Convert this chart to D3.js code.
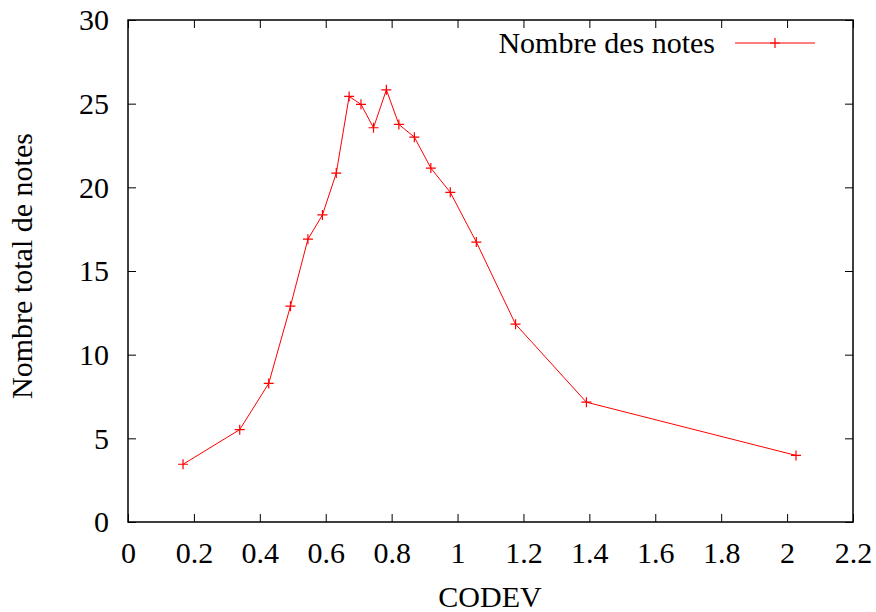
<!DOCTYPE html>
<html><head><meta charset="utf-8">
<script src="https://cdn.jsdelivr.net/npm/d3@7"></script>
<style>body{margin:0;background:#fff}svg{display:block}text{font-family:"Liberation Serif","Times New Roman",serif;fill:#000}</style>
</head><body>
<script>
const codev = [0.167,0.339,0.427,0.493,0.546,0.590,0.632,0.671,0.707,0.745,0.784,0.822,0.869,0.919,0.978,1.057,1.176,1.391,2.027];
const notes = [3.45,5.52,8.28,12.9,16.9,18.35,20.85,25.43,24.96,23.56,25.83,23.76,23.0,21.15,19.7,16.73,11.82,7.16,3.98];
const xTicks = [0,0.2,0.4,0.6,0.8,1,1.2,1.4,1.6,1.8,2,2.2];
const yTicks = [0,5,10,15,20,25,30];
const seriesName = "Nombre des notes";
const xTitle = "CODEV";
const yTitle = "Nombre total de notes";

const W=876,H=612, L=128,R=853,T=20,B=522;
const svg=d3.select("body").append("svg").attr("width",W).attr("height",H);
const x=d3.scaleLinear().domain([0,2.2]).range([L,R]);
const y=d3.scaleLinear().domain([0,30]).range([B,T]);
const fs=30, tl=8, FF='"Liberation Serif","Times New Roman",serif';

const gx=svg.append("g").attr("transform",`translate(0,${B})`)
 .call(d3.axisBottom(x).tickValues(xTicks).tickFormat(d3.format("~g")).tickSizeInner(-tl).tickSizeOuter(0).tickPadding(0));
const gxt=svg.append("g").attr("transform",`translate(0,${T})`)
 .call(d3.axisTop(x).tickValues(xTicks).tickFormat("").tickSizeInner(-tl).tickSizeOuter(0));
const gy=svg.append("g").attr("transform",`translate(${L},0)`)
 .call(d3.axisLeft(y).tickValues(yTicks).tickSizeInner(-tl).tickSizeOuter(0).tickPadding(0));
const gyr=svg.append("g").attr("transform",`translate(${R},0)`)
 .call(d3.axisRight(y).tickValues(yTicks).tickFormat("").tickSizeInner(-tl).tickSizeOuter(0));
[gx,gxt,gy,gyr].forEach(g=>{g.attr("font-family",FF).attr("font-size",fs);
 g.select(".domain").remove();g.selectAll("line").attr("stroke","#000").attr("stroke-width",1);
 g.selectAll("text").attr("fill","#000");});
gx.selectAll("text").attr("y",41).attr("dy",null);
gy.selectAll("text").attr("x",-19).attr("dy","0.33em");
svg.append("rect").attr("x",L).attr("y",T).attr("width",R-L).attr("height",B-T).attr("fill","none").attr("stroke","#000").attr("stroke-width",1.5);

const pts=codev.map((c,i)=>[c,notes[i]]);
svg.append("path").datum(pts).attr("fill","none").attr("stroke","#f00").attr("stroke-width",1)
 .attr("d",d3.line().x(d=>x(d[0])).y(d=>y(d[1])));
const plus=(g,cx,cy)=>{g.append("path").attr("d",`M${cx-5},${cy}H${cx+5}M${cx},${cy-5}V${cy+5}`).attr("stroke","#f00").attr("stroke-width",1.2).attr("fill","none");};
const mg=svg.append("g");
pts.forEach(d=>plus(mg,x(d[0]),y(d[1])));

svg.append("text").attr("x",715).attr("y",53).attr("text-anchor","end").style("font-size",fs+"px").text(seriesName);
svg.append("line").attr("x1",735).attr("x2",815).attr("y1",43).attr("y2",43).attr("stroke","#f00").attr("stroke-width",1);
plus(svg,775,43);

svg.append("text").attr("x",490).attr("y",607).attr("text-anchor","middle").style("font-size",fs+"px").text(xTitle);
svg.append("text").attr("transform",`translate(32,266) rotate(-90)`).attr("text-anchor","middle").style("font-size",fs+"px").text(yTitle);
</script>
</body></html>
